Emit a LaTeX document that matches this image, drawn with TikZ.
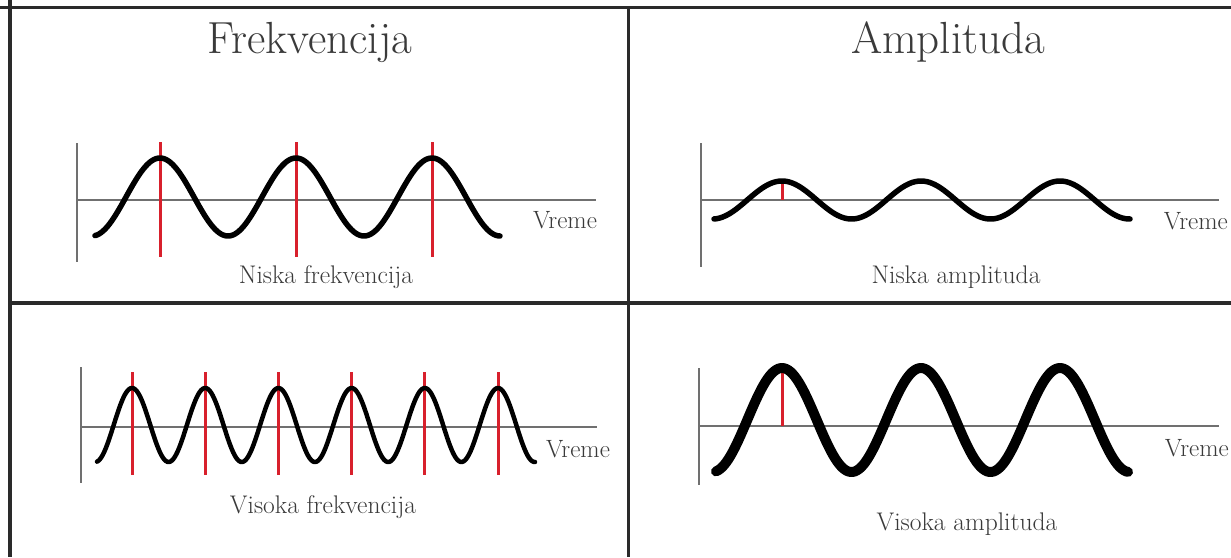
\documentclass[tikz,border=0pt]{standalone}
\usepackage{tikz}
\definecolor{framec}{HTML}{2A2A2A}
\definecolor{axisc}{HTML}{707070}
\definecolor{redc}{HTML}{D8202C}
\definecolor{textc}{HTML}{3A3A3A}
\tikzset{
  frameline/.style={draw=framec, line width=3.5pt},
  axisline/.style={draw=axisc, line width=1.6pt},
  wave/.style={draw=black, line width=5.5pt, line cap=round, line join=round},
  marker/.style={draw=redc, line width=3pt},
  title/.style={text=textc, font=\fontsize{45}{48}\selectfont, inner sep=0pt},
  caption/.style={text=textc, font=\fontsize{25.5}{28}\selectfont, inner sep=0pt},
  timelabel/.style={text=textc, font=\fontsize{25}{27}\selectfont, inner sep=0pt},
}
\begin{document}
\begin{tikzpicture}[x=1pt,y=-1pt]
\useasboundingbox[fill=white] (0,0) rectangle (1231,557);
% frame
\coordinate (tl) at (0,7.5);
\coordinate (tr) at (1231,7.5);
\coordinate (lt) at (10,0);
\coordinate (lb) at (10,557);
\coordinate (mt) at (628.5,7.5);
\coordinate (mb) at (628.5,557);
\coordinate (ml) at (10,303);
\coordinate (mr) at (1231,303);
\draw[frameline] (tl) -- (tr);
\draw[frameline] (lt) -- (lb);
\draw[frameline] (mt) -- (mb);
\draw[frameline] (ml) -- (mr);

% titles
\node[title] (t1) at (310,42) {Frekvencija};
\node[title] (t2) at (948,42) {Amplituda};

% ---- top-left: low frequency
\coordinate (a1t) at (77,143);
\coordinate (a1b) at (77,262);
\coordinate (a1l) at (77,200);
\coordinate (a1r) at (596,200);
\draw[axisline] (a1t) -- (a1b);
\draw[axisline] (a1l) -- (a1r);
\foreach \p/\n in {160/1,296/2,432/3}{
  \coordinate (r1\n t) at (\p,142);
  \coordinate (r1\n b) at (\p,257);
  \draw[marker] (r1\n t) -- (r1\n b);
}
\draw[wave] plot[domain=95:500, samples=200] (\x, {197-39*cos((\x-160)/136*360)});
\node[timelabel] (v1) at (565,220) {Vreme};
\node[caption] (c1) at (326,277) {Niska frekvencija};

% ---- top-right: low amplitude
\coordinate (a2t) at (701,143);
\coordinate (a2b) at (701,267);
\coordinate (a2l) at (701,200);
\coordinate (a2r) at (1219,200);
\draw[axisline] (a2t) -- (a2b);
\draw[axisline] (a2l) -- (a2r);
\coordinate (r2t) at (782,180);
\coordinate (r2b) at (782,200);
\draw[marker] (r2t) -- (r2b);
\draw[wave] plot[domain=714:1130, samples=200] (\x, {200-19*cos((\x-782)/139*360)});
\node[timelabel, anchor=east] (v2) at (1228,221) {Vreme};
\node[caption] (c2) at (956,277) {Niska amplituda};

% ---- bottom-left: high frequency
\coordinate (a3t) at (81,367);
\coordinate (a3b) at (81,483);
\coordinate (a3l) at (81,427);
\coordinate (a3r) at (597,427);
\draw[axisline] (a3t) -- (a3b);
\draw[axisline] (a3l) -- (a3r);
\foreach \k in {0,...,5}{
  \pgfmathsetmacro{\px}{132+73.2*\k}
  \coordinate (r3\k t) at (\px,372);
  \coordinate (r3\k b) at (\px,475);
  \draw[marker] (r3\k t) -- (r3\k b);
}
\draw[wave, line width=4.5pt] plot[domain=97:535, samples=300] (\x, {425-37*cos((\x-132)/73.2*360)});
\node[timelabel] (v3) at (578,449) {Vreme};
\node[caption] (c3) at (323,507) {Visoka frekvencija};

% ---- bottom-right: high amplitude
\coordinate (a4t) at (699,368);
\coordinate (a4b) at (699,485);
\coordinate (a4l) at (699,426);
\coordinate (a4r) at (1219,426);
\draw[axisline] (a4t) -- (a4b);
\draw[axisline] (a4l) -- (a4r);
\coordinate (r4t) at (782,365);
\coordinate (r4b) at (782,426);
\draw[marker] (r4t) -- (r4b);
\draw[wave, line width=10pt] plot[domain=716:1128, samples=200] (\x, {420-52*cos((\x-782)/139*360)});
\node[timelabel, anchor=east] (v4) at (1229,448) {Vreme};
\node[caption] (c4) at (967,524) {Visoka amplituda};
\end{tikzpicture}
\end{document}
